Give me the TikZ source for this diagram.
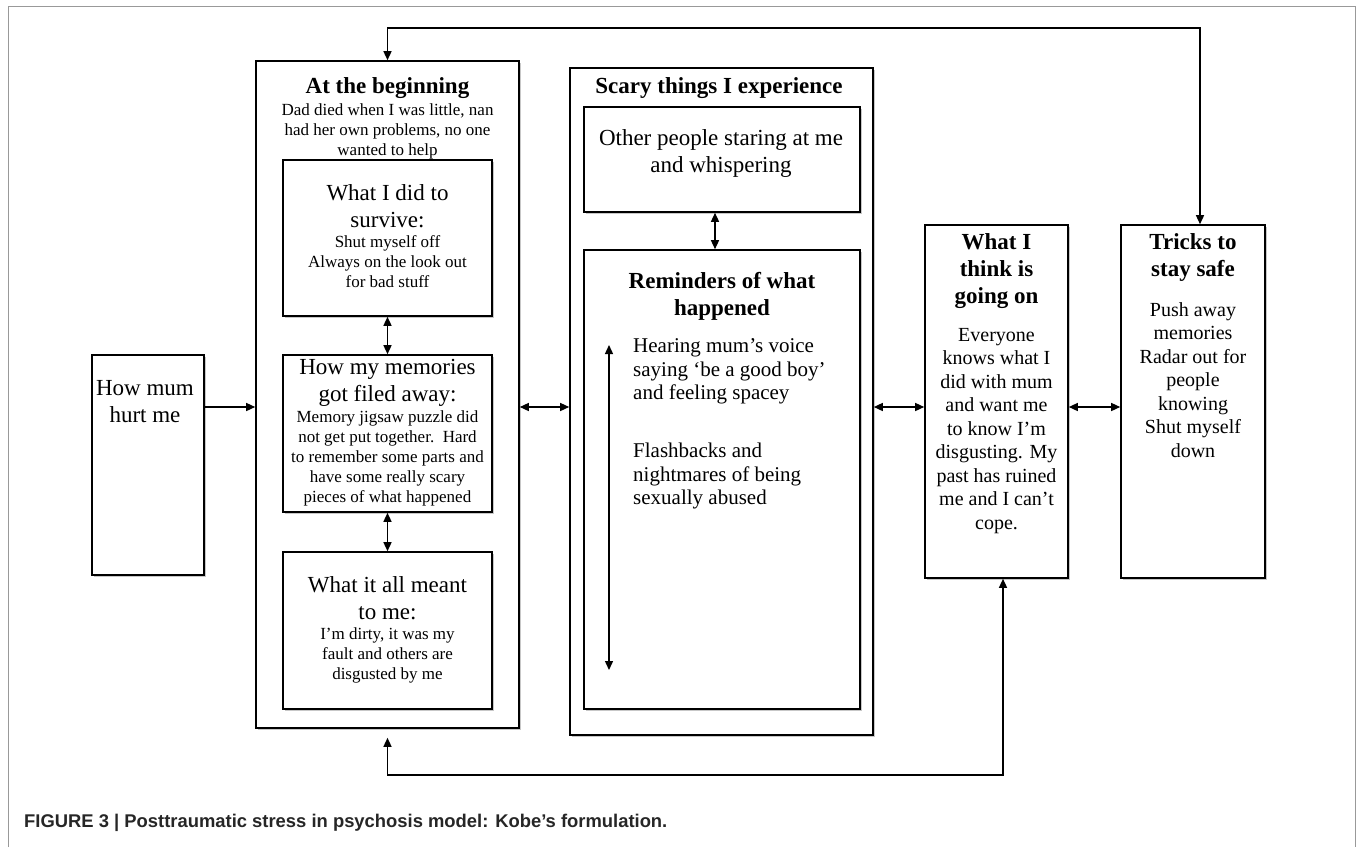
\documentclass[tikz,border=0pt]{standalone}
\usepackage{fontspec}
\setmainfont{Liberation Serif}
\setsansfont{Liberation Sans}
\usetikzlibrary{arrows.meta,shadows}
\newcommand{\boxlarge}{\fontsize{23}{27}\selectfont}
\newcommand{\boxsmall}{\fontsize{17}{20}\selectfont}
\newcommand{\boxhead}{\fontsize{23}{27}\selectfont\bfseries}
\newcommand{\boxmid}{\fontsize{20}{23.5}\selectfont}
\newcommand{\boxrem}{\fontsize{21}{23.5}\selectfont}
\begin{document}
\begin{tikzpicture}[x=1pt,y=-1pt,>={Triangle[length=9pt,width=8pt]},
  box/.style={draw,line width=1.6pt,fill=white,inner sep=0pt,
    drop shadow={shadow xshift=1.5pt,shadow yshift=-1.5pt,fill=black!22,opacity=1}},
  txt/.style={inner sep=0pt,align=center},
  link/.style={line width=1.4pt}]
\useasboundingbox (0,0) rectangle (1363,847);
%	frame
\draw[gray!80,line width=1pt] (8,847)--(8,6)--(1355,6)--(1355,847);
% boxes
\node[box,minimum width=112pt,minimum height=220pt] (mum) at (148,465) {};
\node[box,minimum width=263pt,minimum height=667pt] (begin) at (387.5,394.5) {};
\node[box,minimum width=209pt,minimum height=156pt] (survive) at (387.5,238) {};
\node[box,minimum width=209pt,minimum height=157pt] (filed) at (387.5,433.5) {};
\node[box,minimum width=209pt,minimum height=157pt] (meant) at (387.5,630.5) {};
\node[box,minimum width=303pt,minimum height=667pt] (scary) at (721.5,401.5) {};
\node[box,minimum width=276pt,minimum height=105pt] (staring) at (722,159.5) {};
\node[box,minimum width=276pt,minimum height=459pt] (remind) at (722,479.5) {};
\node[box,minimum width=143pt,minimum height=353pt] (think) at (996.5,401.5) {};
\node[box,minimum width=144pt,minimum height=353pt] (tricks) at (1193,401.5) {};
% texts
\node[txt,font=\boxlarge] (mumtext) at (145,401.5) {How mum\\hurt me};
\node[txt,font=\boxhead] (begintitle) at (387.5,88) {At the beginning};
\node[txt,font=\boxsmall] (begintext) at (387.5,131) {Dad died when I was little, nan\\had her own problems, no one\\wanted to help};
\node[txt,font=\boxlarge] (survtitle) at (387.5,206) {What I did to\\survive:};
\node[txt,font=\boxsmall] (survtext) at (387.5,262) {Shut myself off\\Always on the look out\\for bad stuff};
\node[txt,font=\boxlarge] (filedtitle) at (387.5,382.5) {How my memories\\got filed away:};
\node[txt,font=\boxsmall] (filedtext) at (387.5,458.5) {Memory jigsaw puzzle did\\not get put together.\ \ Hard\\to remember some parts and\\have some really scary\\pieces of what happened};
\node[txt,font=\boxlarge] (meanttitle) at (387.5,598.5) {What it all meant\\to me:};
\node[txt,font=\boxsmall] (meanttext) at (387.5,655) {I’m dirty, it was my\\fault and others are\\disgusted by me};
\node[txt,font=\boxhead] (scarytitle) at (719,88) {Scary things I experience};
\node[txt,font=\boxlarge] (staringtext) at (721,153.5) {Other people staring at me\\and whispering};
\node[txt,font=\boxhead] (remindtitle) at (722,296.5) {Reminders of what\\happened};
\node[txt,font=\boxrem,align=left,anchor=west] (remindA) at (633,371.5) {Hearing mum’s voice\\saying ‘be a good boy’\\and feeling spacey};
\node[txt,font=\boxrem,align=left,anchor=west] (remindB) at (633,476) {Flashbacks and\\nightmares of being\\sexually abused};
\node[txt,font=\boxhead] (thinktitle) at (996.5,271) {What I\\think is\\going on};
\node[txt,font=\boxmid] (thinktext) at (996.5,431) {Everyone\\knows what I\\did with mum\\and want me\\to know I’m\\disgusting. My\\past has ruined\\me and I can’t\\cope.};
\node[txt,font=\boxhead] (trickstitle) at (1193,257.5) {Tricks to\\stay safe};
\node[txt,font=\boxmid] (trickstext) at (1193,380) {Push away\\memories\\Radar out for\\people\\knowing\\Shut myself\\down};
\node[inner sep=0pt,anchor=west,text=black!85,font=\sffamily\bfseries\fontsize{18.4}{21}\selectfont] (caption) at (24,823) {FIGURE 3 \textbar{} Posttraumatic stress in psychosis model: Kobe’s formulation.};
% connectors
\coordinate (midrow) at (0,407);
\coordinate (topc) at (800,28);
\coordinate (botc) at (700,775);
\coordinate (remtop) at (609,345);
\coordinate (rembot) at (609,670);
\draw[link,->] (mum.east |- midrow)--(begin.west |- midrow);
\draw[link,<->] (begin.east |- midrow)--(scary.west |- midrow);
\draw[link,<->] (scary.east |- midrow)--(think.west |- midrow);
\draw[link,<->] (think.east |- midrow)--(tricks.west |- midrow);
\draw[link,<->] (survive.south)--(filed.north);
\draw[link,<->] (filed.south)--(meant.north);
\draw[link,<->] ([xshift=-7pt]staring.south)--([xshift=-7pt]remind.north);
\draw[link,<->] (remtop)--(rembot);
\draw[link,<->] (begin.north) |- (topc) -| ([xshift=7pt]tricks.north);
\draw[link,<->] ([yshift=-9pt]begin.south) |- (botc) -| ([xshift=6.5pt]think.south);
\end{tikzpicture}
\end{document}
